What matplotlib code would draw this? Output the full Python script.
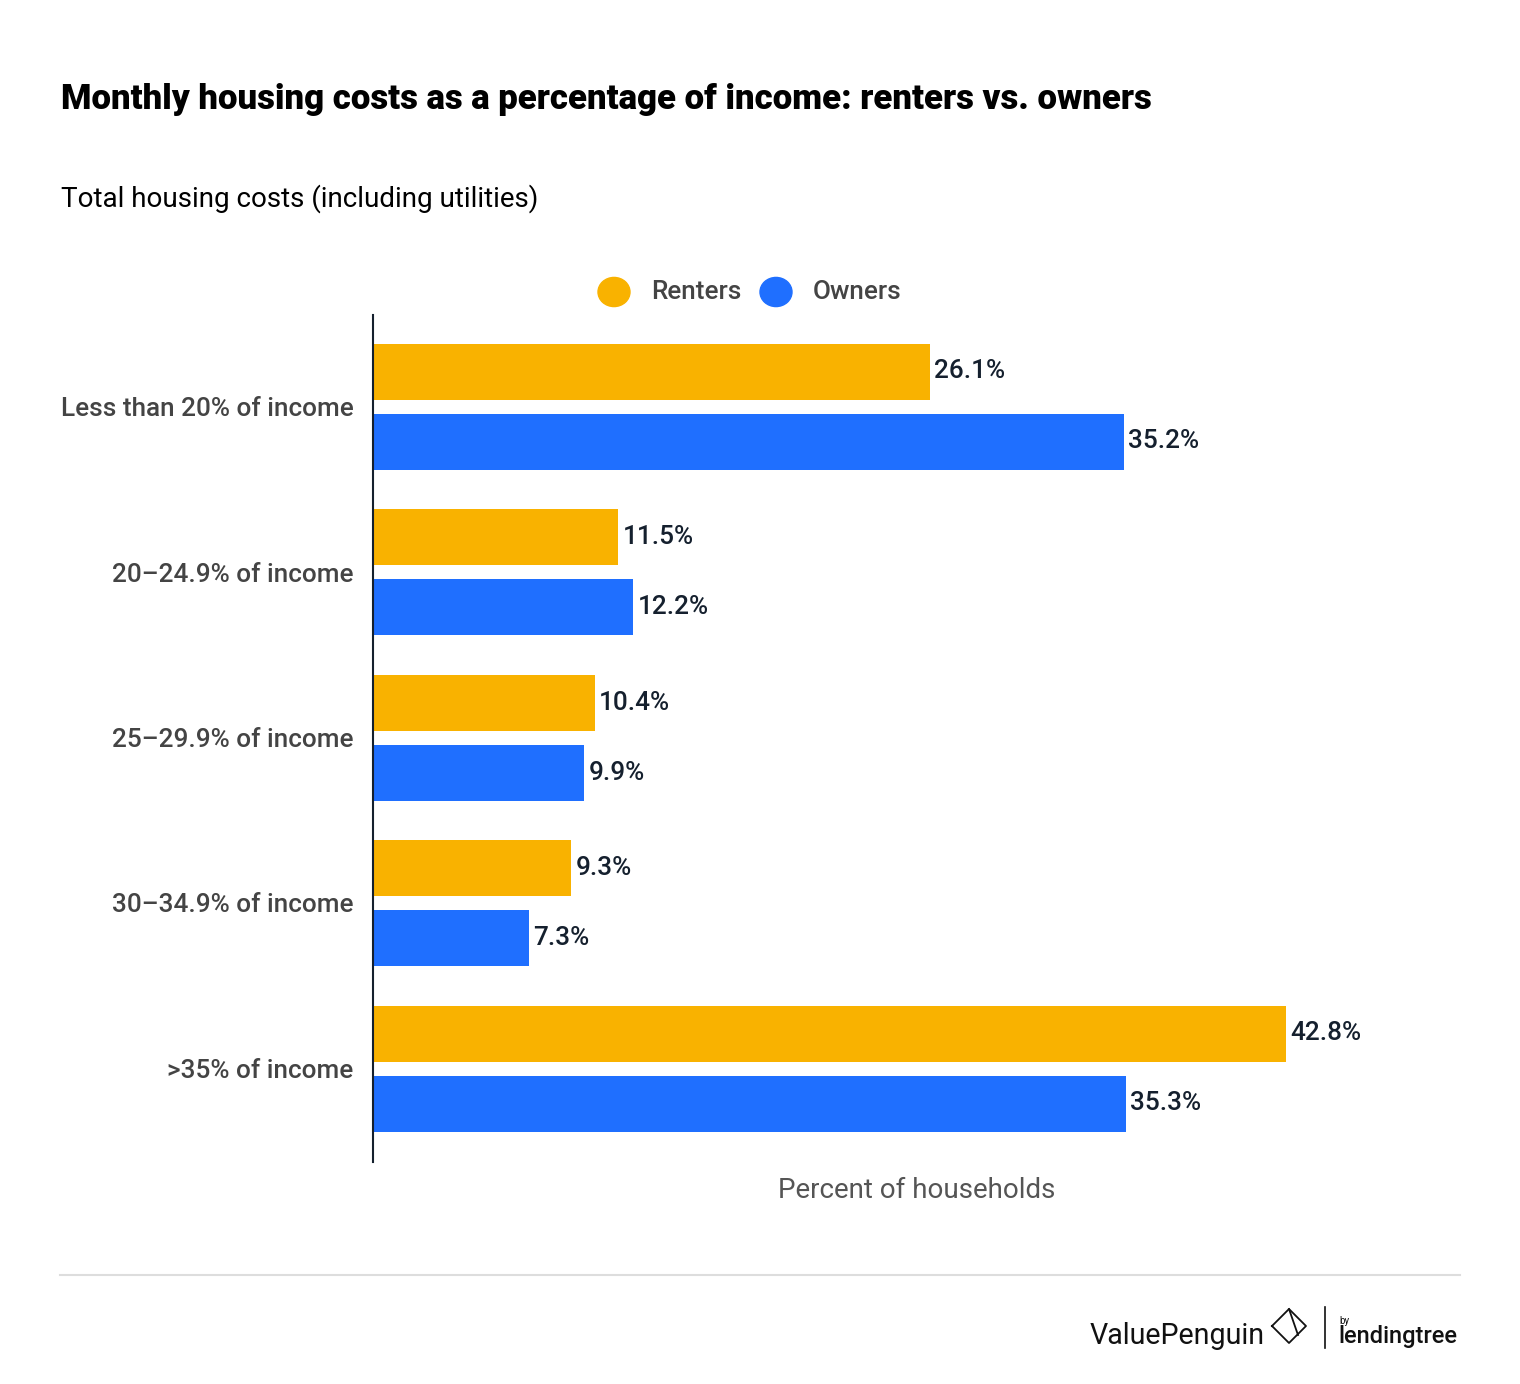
import matplotlib
matplotlib.use('Agg')
import matplotlib.pyplot as plt
import numpy as np
from matplotlib.patches import Circle
from matplotlib.lines import Line2D

categories = ["Less than 20% of income", "20\u201324.9% of income", "25\u201329.9% of income",
              "30\u201334.9% of income", ">35% of income"]
renters = [26.1, 11.5, 10.4, 9.3, 42.8]
owners = [35.2, 12.2, 9.9, 7.3, 35.3]

RENT_COLOR = '#F9B200'
OWN_COLOR = '#1F6FFF'
LABEL_COLOR = '#444444'
VALUE_COLOR = '#15202E'

plt.rcParams['font.family'] = ['Roboto', 'DejaVu Sans']

fig = plt.figure(figsize=(15.2, 13.84), dpi=100)
ax = fig.add_axes([373 / 1520, 1 - 1162 / 1384, (1461 - 373) / 1520, (1162 - 315) / 1384])

y = np.arange(len(categories))
h = 56 / 165.5
off = 35 / 165.5
ax.barh(y - off, renters, height=h, color=RENT_COLOR)
ax.barh(y + off, owners, height=h, color=OWN_COLOR)

for yi, r, o in zip(y, renters, owners):
    ax.text(r + 0.2, yi - off, f"{r}%", va='center', ha='left', fontsize=18.8,
            color=VALUE_COLOR, fontweight='medium')
    ax.text(o + 0.2, yi + off, f"{o}%", va='center', ha='left', fontsize=18.8,
            color=VALUE_COLOR, fontweight='medium')

ax.set_xlim(0, 51)
ax.set_ylim(4 + 93.5 / 165.5, -91.5 / 165.5)
ax.set_yticks(y)
ax.set_yticklabels(categories, fontsize=18.8, color=LABEL_COLOR, fontweight='medium')
ax.tick_params(axis='y', length=0, pad=14)
ax.set_xticks([])
for s in ['top', 'right', 'bottom']:
    ax.spines[s].set_visible(False)
ax.spines['left'].set_color(VALUE_COLOR)
ax.spines['left'].set_linewidth(1.5)

ax.set_xlabel("Percent of households", fontsize=20, color='#555555', labelpad=11)

# title and subtitle
fig.text(61 / 1520, 1 - 99 / 1384, "Monthly housing costs as a percentage of income: renters vs. owners",
         fontsize=25, fontweight='black', color='black', va='center', ha='left')
fig.text(61 / 1520, 1 - 199 / 1384, "Total housing costs (including utilities)",
         fontsize=20, color='black', va='center', ha='left')

# legend
for cx, col, lab, tx in [(614, RENT_COLOR, "Renters", 651), (776, OWN_COLOR, "Owners", 813)]:
    fig.patches.append(Circle((cx / 1520, 1 - 292 / 1384), 16 / 1520, transform=fig.transFigure,
                              color=col, zorder=3))
    fig.text(tx / 1520, 1 - 292 / 1384, lab, fontsize=18.8, color=LABEL_COLOR, va='center',
             ha='left', fontweight='medium')

# footer rule
fig.add_artist(Line2D([60 / 1520, 1460 / 1520], [1 - 1275 / 1384] * 2, color='#DDDDDD', lw=1.5,
                      transform=fig.transFigure))

# footer logo (approximation)
fig.text(1090 / 1520, 1 - 1336 / 1384, "ValuePenguin", fontsize=20.6, color='#111111',
         va='center', ha='left')
dx, dy = 1289, 1326
pts = [(dx - 17, dy), (dx, dy - 17), (dx + 17, dy), (dx, dy + 17), (dx - 17, dy)]
fig.add_artist(Line2D([p[0] / 1520 for p in pts], [1 - p[1] / 1384 for p in pts], color='#111111',
                      lw=1.3, transform=fig.transFigure))
fig.add_artist(Line2D([dx / 1520, (dx + 9) / 1520], [1 - (dy - 17) / 1384, 1 - (dy + 9) / 1384],
                      color='#111111', lw=1.3, transform=fig.transFigure))
fig.add_artist(Line2D([1325 / 1520] * 2, [1 - 1307 / 1384, 1 - 1348 / 1384], color='#111111', lw=1.2,
                      transform=fig.transFigure))
fig.text(1339 / 1520, 1 - 1321 / 1384, "by", fontsize=7, color='#111111', va='center', ha='left')
fig.text(1338 / 1520, 1 - 1337 / 1384, "lendingtree", fontsize=17, fontweight='medium',
         color='#111111', va='center', ha='left')

fig.savefig('out.png', dpi=100, facecolor='white')
